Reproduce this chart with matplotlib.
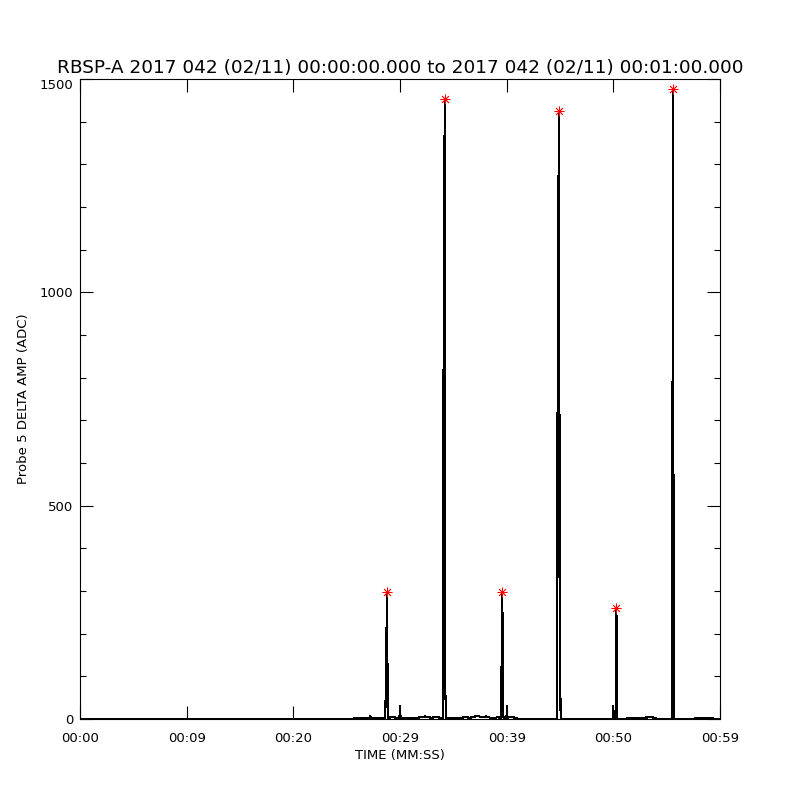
import matplotlib
matplotlib.use("Agg")
import matplotlib.pyplot as plt
import numpy as np
from matplotlib.ticker import MultipleLocator, FixedLocator

# ---- data (time in seconds from 00:00:00, value in ADC) ----
time_s = [
    0.00, 25.12, 26.06, 26.44, 26.81, 27.09, 27.19, 27.28, 27.75, 28.13, 28.50,
    28.62, 28.66, 28.72, 28.78, 28.84, 28.91,
    29.25, 29.81, 29.95, 30.00, 30.05, 30.47, 30.94, 31.69, 32.34, 32.63, 33.00,
    33.47, 33.75, 34.03,
    34.07, 34.08, 34.13, 34.22, 34.22, 34.31,
    34.69, 35.16, 35.63, 36.19, 36.56, 37.03, 37.31, 37.69, 38.06, 38.44, 38.91,
    39.19, 39.42,
    39.47, 39.50, 39.56, 39.59, 39.66, 39.70,
    39.98, 40.03, 40.07, 40.31, 40.59, 40.97, 41.06,
    44.70, 44.76, 44.85, 44.93, 44.96, 45.06,
    49.97, 50.00, 50.03, 50.22, 50.25, 50.28, 50.33, 50.38,
    52.78, 53.44, 53.99, 54.09,
    55.50, 55.53, 55.58, 55.62, 55.64, 55.70, 55.78,
    59.34, 59.44, 60.00,
]
value_adc = [
    0, 0, 2, 3, 3, 2, 6, 3, 3, 2, 3,
    3, 64, 173, 297, 64, 3,
    4, 3, 3, 30, 3, 3, 2, 3, 6, 4, 3,
    5, 3, 3,
    3, 787, 1273, 1452, 100, 3,
    2, 3, 3, 4, 3, 6, 7, 4, 6, 3, 3,
    4, 3,
    3, 72, 220, 297, 72, 3,
    3, 31, 3, 5, 4, 2, 0,
    0, 647, 1241, 1424, 260, 0,
    0, 31, 0, 0, 143, 259, 195, 0,
    3, 4, 3, 0,
    0, 673, 943, 1477, 322, 0, 0,
    2, 0, 0,
]
peak_time_s = [28.78, 34.22, 39.59, 44.93, 50.28, 55.62]
peak_adc = [297, 1452, 297, 1424, 259, 1477]

xtick_pos = [0, 10, 20, 30, 40, 50, 60]
xtick_labels = ["00:00", "00:09", "00:20", "00:29", "00:39", "00:50", "00:59"]
ytick_major = [0, 500, 1000, 1500]

title = "RBSP-A 2017 042 (02/11) 00:00:00.000 to 2017 042 (02/11) 00:01:00.000"

plt.rcParams['font.family'] = ['DejaVu Sans']
fig = plt.figure(figsize=(8, 8), dpi=100)
ax = fig.add_axes([0.1, 0.10125, 0.8, 0.8])

ax.plot(time_s, value_adc, color='black', lw=0.8, antialiased=False)
ax.plot(peak_time_s, peak_adc, linestyle='none', marker=(8, 2, 0),
        color='red', markersize=7, markeredgewidth=0.6)

ax.set_xlim(0, 60)
ax.set_ylim(0, 1500)
ax.xaxis.set_major_locator(FixedLocator(xtick_pos))
ax.set_xticklabels(xtick_labels)
ax.yaxis.set_major_locator(FixedLocator(ytick_major))
ax.yaxis.set_minor_locator(MultipleLocator(100))

ax.tick_params(axis='both', which='major', direction='in', length=9.4,
               width=0.8, top=True, right=True, labelsize=9.5)
ax.tick_params(axis='y', which='minor', direction='in', length=4.5,
               width=0.8, left=True, right=True)
ax.tick_params(axis='x', which='major', pad=9)
ax.tick_params(axis='y', which='major', pad=5)
for s in ax.spines.values():
    s.set_linewidth(0.8)
# nudge the top y label down slightly, as in the reference
for lbl in ax.get_yticklabels():
    if lbl.get_text() == "1500":
        lbl.set_verticalalignment('top')
        lbl.set_y(1500)

ax.set_xlabel("TIME (MM:SS)", fontsize=9.5, labelpad=3)
ax.set_ylabel("Probe 5 DELTA AMP (ADC)", fontsize=9.5, labelpad=7)
ax.set_title(title, fontsize=13.3, pad=4.5)

fig.savefig("out.png", dpi=100)
